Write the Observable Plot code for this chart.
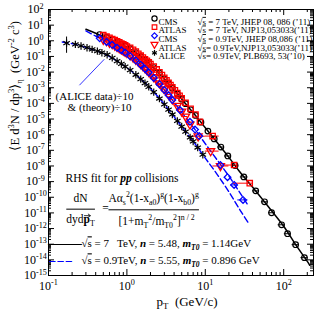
<!DOCTYPE html>
<html><head><meta charset="utf-8">
<script src="https://cdn.jsdelivr.net/npm/d3@7"></script>
<script src="https://cdn.jsdelivr.net/npm/@observablehq/plot@0.6"></script>
<style>body{margin:0;background:#fff} svg{font-family:"Liberation Serif","Times New Roman",serif;}</style>
</head><body><div id="chart"></div><script>
// ---------------- data (log10 of E d3N/dp3) ----------------
const cms7Pt   = [0.45,0.55,0.65,0.75,0.85,0.95,1.1,1.3,1.5,1.7,1.9,2.2,2.6,3.0,3.4,3.8,4.4,5.0,5.6,6.5,7.5,8.8,10.8,13,15.8,19.4,24,31,44,57,70,94,112,142,184];
const cms7LogY = [0.40,0.21,0.05,-0.09,-0.23,-0.35,-0.51,-0.75,-1.01,-1.24,-1.44,-1.71,-2.07,-2.43,-2.75,-3.03,-3.40,-3.73,-4.02,-4.41,-4.77,-5.20,-5.77,-6.27,-6.79,-7.36,-7.97,-8.70,-9.59,-10.29,-10.99,-11.76,-12.33,-13.03,-13.86];
const cms7BarPt = [15.8,19.4,24,31,44,57,70,94,112,142,184];
const cms7BarLo = [14.4,17.6,21.6,28,40,52,64,85,102,128,166];
const cms7BarHi = [17.4,21.4,26.6,35,49,63,78,104,124,158,205];

const atlas7Pt   = [0.5,0.55,0.6,0.65,0.7,0.75,0.8,0.85,0.9,0.95,1.0,1.1,1.2,1.3,1.4,1.5,1.6,1.7,1.8,1.9,2.0,2.2,2.4,2.6,2.8,3.0,3.2,3.4,3.6,3.8,4.1,4.4,4.7,5.0,5.6,6.5,7.5,8.54,12.4,23.3,36.9];
const atlas7LogY = [0.36,0.27,0.19,0.11,0.04,-0.03,-0.10,-0.17,-0.23,-0.29,-0.37,-0.45,-0.58,-0.69,-0.83,-0.95,-1.07,-1.18,-1.28,-1.38,-1.49,-1.65,-1.83,-2.01,-2.19,-2.37,-2.53,-2.69,-2.83,-2.97,-3.16,-3.34,-3.51,-3.67,-3.96,-4.35,-4.71,-5.18,-6.09,-7.94,-9.10];
const atlas7BarPt = [12.4,23.3,36.9];
const atlas7BarLo = [10,17.7,22.6];
const atlas7BarHi = [15,25.7,40.6];

const cms09Pt   = [0.45,0.55,0.65,0.75,0.85,0.95,1.1,1.3,1.5,1.7,1.9,2.2,2.6,3.0,3.4,3.8,4.75,6.37,7.4,8.37,15.6,19.2,23.3,30.3];
const cms09LogY = [0.16,-0.07,-0.26,-0.44,-0.60,-0.75,-0.98,-1.26,-1.53,-1.79,-2.03,-2.37,-2.77,-3.14,-3.48,-3.79,-4.43,-5.18,-5.67,-6.09,-7.94,-8.72,-9.21,-10.17];
const cms09BarPt = [23.3,30.3];
const cms09BarLo = [21,26];
const cms09BarHi = [26,35];

const atlas09Pt   = [0.5,0.55,0.6,0.65,0.7,0.75,0.8,0.85,0.9,0.95,1.0,1.1,1.2,1.3,1.4,1.5,1.6,1.7,1.8,1.9,2.0,2.2,2.4,2.6,2.8,3.0,3.4,3.8,4.4,5.0,5.6,6.37,8.1,11.7,15.6];
const atlas09LogY = [0.07,-0.02,-0.12,-0.21,-0.30,-0.39,-0.47,-0.55,-0.63,-0.70,-0.77,-0.93,-1.07,-1.21,-1.34,-1.48,-1.61,-1.74,-1.86,-1.98,-2.09,-2.32,-2.52,-2.72,-2.91,-3.09,-3.43,-3.74,-4.15,-4.52,-4.84,-5.35,-6.10,-7.05,-8.00];
const atlas09BarPt = [2.6,3.0,3.4,3.8,4.4,5.0,5.6,6.37,8.1,11.7,15.6];
const atlas09BarLo = [2.4,2.8,3.2,3.6,4.0,4.6,5.2,5.8,6.5,10,12.5];
const atlas09BarHi = [2.8,3.2,3.6,4.0,4.8,5.4,6.0,7.0,10,15,20];

const alicePt   = [0.17,0.22,0.26,0.31,0.36,0.42,0.48,0.56,0.65,0.75,0.85,0.95,1.1,1.3,1.5,1.7,1.9,2.2,2.6,3.0,3.4,3.8,4.4,5.0,5.6,6.4,7.0,8.0,9.3];
const aliceLogY = [-0.15,-0.23,-0.33,-0.44,-0.55,-0.66,-0.76,-0.89,-1.09,-1.30,-1.48,-1.65,-1.88,-2.17,-2.45,-2.71,-2.94,-3.28,-3.69,-4.06,-4.40,-4.71,-5.12,-5.48,-5.80,-6.18,-6.43,-6.82,-7.28];
const aliceErrLo = [-0.80];
const aliceErrHi = [0.24];

// fit curves (theory)
const fit7Pt    = [0.3,0.4,0.5,0.7,1.0,1.4,2.0,2.8,4.0,5.5,7.5,10,14,20,28,40,55,75,100,140,200,215];
const fit7LogY  = [0.74,0.48,0.28,-0.02,-0.40,-0.87,-1.54,-2.26,-3.15,-3.98,-4.77,-5.56,-6.47,-7.45,-8.42,-9.35,-10.20,-11.05,-11.85,-12.98,-14.10,-14.35];
const fit09Pt   = [0.3,0.4,0.5,0.7,1.0,1.4,2.0,2.8,4.0,5.5,7.5,10,14,20,28,35];
const fit09LogY = [0.63,0.30,0.04,-0.35,-0.82,-1.38,-2.14,-2.95,-3.93,-4.84,-5.71,-6.58,-7.58,-8.65,-9.75,-10.50];
const fitAlicePt   = [0.15,0.2,0.3,0.4,0.5,0.7,1.0,1.4,2.0,2.8,4.0,5.5,7.5,10,14,20,28,35];
const fitAliceLogY = [-0.08,-0.18,-0.42,-0.63,-0.80,-1.20,-1.72,-2.30,-3.05,-3.87,-4.85,-5.75,-6.62,-7.50,-8.50,-9.65,-10.85,-11.60];

// annotation pointer (ALICE ÷10)
const pointerPt = [0.248, 0.515];
const pointerLogY = [-2.84, -1.18];

// axes
const xTickValues = [0.1, 1, 10, 100];
const xTickLabels = ["10^{-1}", "10^{0}", "10^{1}", "10^{2}"];
const yExponents = [2,1,0,-1,-2,-3,-4,-5,-6,-7,-8,-9,-10,-11,-12,-13,-14,-15];

const legendNames = ["CMS", "ATLAS", "CMS", "ATLAS", "ALICE"];
const legendRefs = ["√~{s} = 7 TeV, JHEP 08, 086 (’11)", "√~{s} = 7 TeV, NJP13,053033(’11)", "√~{s} = 0.9TeV, JHEP 08,086 (’11)", "√~{s}= 0.9TeV,NJP13,053033(’11)", "√~{s}= 0.9TeV, PLB693, 53(’10)"];

// ---------------- build ----------------
const W = 317, H = 316, mL = 48, mR = 4, mT = 9, mB = 41;
const iW = W - mL - mR, iH = H - mT - mB;
const pts = (p, l) => p.map((x, i) => ({x, y: 10 ** l[i]}));
const bars = (bp, lo, hi, p, l) => bp.map((x, i) => ({x1: lo[i], x2: hi[i], y: 10 ** l[p.indexOf(x)]}));

const cms7 = pts(cms7Pt, cms7LogY), atlas7 = pts(atlas7Pt, atlas7LogY);
const cms09 = pts(cms09Pt, cms09LogY), atlas09 = pts(atlas09Pt, atlas09LogY);
const alice = pts(alicePt, aliceLogY);
const fit7 = pts(fit7Pt, fit7LogY), fit09 = pts(fit09Pt, fit09LogY), fitAl = pts(fitAlicePt, fitAliceLogY);

const yMajor = yExponents.map(e => 10 ** e);
const yMinor = [];
for (const e of yExponents.slice(1)) for (let k = 2; k <= 9; k++) yMinor.push(k * 10 ** e);
const xMinor = [];
for (const e of [-1, 0, 1, 2]) for (let k = 2; k <= 9; k++) if (k * 10 ** e < 240) xMinor.push(k * 10 ** e);

const red = "#ff0000", blue = "#0000ff";
const font = {fontFamily: "Liberation Serif"};

const marks = [
  Plot.tickX(xTickValues, {x: d => d, insetTop: iH - 6, stroke: "black"}),
  Plot.tickX(xTickValues, {x: d => d, insetBottom: iH - 6, stroke: "black"}),
  Plot.tickX(xMinor, {x: d => d, insetTop: iH - 3, stroke: "black"}),
  Plot.tickX(xMinor, {x: d => d, insetBottom: iH - 3, stroke: "black"}),
  Plot.tickY(yMajor, {y: d => d, insetRight: iW - 6, stroke: "black"}),
  Plot.tickY(yMajor, {y: d => d, insetLeft: iW - 6, stroke: "black"}),
  Plot.tickY(yMinor, {y: d => d, insetRight: iW - 3, stroke: "black"}),
  Plot.tickY(yMinor, {y: d => d, insetLeft: iW - 3, stroke: "black"}),
  Plot.text(xTickValues, {x: d => d, frameAnchor: "bottom", dy: 14, text: (d, i) => xTickLabels[i], fontSize: 12, ...font}),
  Plot.text(yMajor, {y: d => d, frameAnchor: "left", dx: -13, textAnchor: "middle", text: (d, i) => `10^{${yExponents[i]}}`, fontSize: 12, ...font}),
  Plot.text(["⟨E d^{3}N / dp^{3}⟩_{η}  (GeV^{-2} c^{3})"], {frameAnchor: "left", dx: -34, dy: 8, rotate: -90, fontSize: 12.5, ...font}),
  Plot.text(["p_{T}  (GeV/c)"], {frameAnchor: "bottom", dx: 6, dy: 30, fontSize: 13, ...font}),
  Plot.line(fit7, {x: "x", y: "y", stroke: "black", strokeWidth: 1.5, curve: "catmull-rom"}),
  Plot.line(fit09, {x: "x", y: "y", stroke: blue, strokeWidth: 1.4, strokeDasharray: "6,3", curve: "catmull-rom"}),
  Plot.line(fitAl, {x: "x", y: "y", stroke: blue, strokeWidth: 1.4, strokeDasharray: "6,3", curve: "catmull-rom"}),
  Plot.link([0], {x1: () => pointerPt[0], y1: () => 10 ** pointerLogY[0], x2: () => pointerPt[1], y2: () => 10 ** pointerLogY[1], stroke: blue, strokeWidth: 0.8}),
  Plot.ruleY(bars(cms7BarPt, cms7BarLo, cms7BarHi, cms7Pt, cms7LogY), {y: "y", x1: "x1", x2: "x2", stroke: "black", strokeWidth: 1}),
  Plot.ruleY(bars(atlas7BarPt, atlas7BarLo, atlas7BarHi, atlas7Pt, atlas7LogY), {y: "y", x1: "x1", x2: "x2", stroke: red, strokeWidth: 1}),
  Plot.ruleY(bars(atlas09BarPt, atlas09BarLo, atlas09BarHi, atlas09Pt, atlas09LogY), {y: "y", x1: "x1", x2: "x2", stroke: red, strokeWidth: 1}),
  Plot.ruleY(bars(cms09BarPt, cms09BarLo, cms09BarHi, cms09Pt, cms09LogY), {y: "y", x1: "x1", x2: "x2", stroke: blue, strokeWidth: 1}),
  Plot.ruleX([0], {x: () => alicePt[0], y1: () => 10 ** aliceErrLo[0], y2: () => 10 ** aliceErrHi[0], stroke: "black", strokeWidth: 1}),
  Plot.dot(cms7, {x: "x", y: "y", symbol: "circle", r: 2.8, stroke: "black", strokeWidth: 1.2, fill: "none"}),
  Plot.dot(atlas7, {x: "x", y: "y", symbol: "square", r: 3, stroke: red, strokeWidth: 1.3, fill: "none"}),
  Plot.dot(atlas09, {x: "x", y: "y", symbol: "triangle", rotate: 180, r: 3, stroke: red, strokeWidth: 1.3, fill: "none"}),
  Plot.dot(cms09, {x: "x", y: "y", symbol: "diamond2", r: 3, stroke: blue, strokeWidth: 1.3, fill: "none"}),
  Plot.dot(alice, {x: "x", y: "y", symbol: "asterisk", r: 3.5, stroke: "black", strokeWidth: 1.2}),
  Plot.text(["(ALICE data)÷10"], {frameAnchor: "top-left", dx: 46, dy: 83, textAnchor: "middle", fontSize: 11, ...font}),
  Plot.text(["& (theory)÷10"], {frameAnchor: "top-left", dx: 51, dy: 94, textAnchor: "middle", fontSize: 11, ...font}),
  Plot.text(["RHS fit for *{pp} collisions"], {frameAnchor: "top-left", dx: 17, dy: 164, textAnchor: "start", fontSize: 11.5, ...font}),
  Plot.text(["dN"], {frameAnchor: "top-left", dx: 32, dy: 184, textAnchor: "middle", fontSize: 11.5, ...font}),
  Plot.text(["dyd!{p}_{T}"], {frameAnchor: "top-left", dx: 32, dy: 205, textAnchor: "middle", fontSize: 11.5, ...font}),
  Plot.text(["="], {frameAnchor: "top-left", dx: 57, dy: 194, textAnchor: "middle", fontSize: 11.5, ...font}),
  Plot.text(["Aα_{s}^{2}(1-x_{a0})^{g}(1-x_{b0})^{g}"], {frameAnchor: "top-left", dx: 60, dy: 184, textAnchor: "start", fontSize: 11.5, ...font}),
  Plot.text(["[1+m_{T}^{2}/m_{T0}^{2}]^{n / 2}"], {frameAnchor: "top-left", dx: 70, dy: 207, textAnchor: "start", fontSize: 11.5, ...font}),
  Plot.text(["———"], {frameAnchor: "top-left", dx: 0, dy: 230, textAnchor: "start", fontSize: 11, fill: "black", stroke: "black", strokeWidth: 0.7, ...font}),
  Plot.text(["– – –"], {frameAnchor: "top-left", dx: 1, dy: 247, textAnchor: "start", fontSize: 11, fill: blue, stroke: blue, strokeWidth: 0.7, ...font}),
  Plot.text(["√~{s} = 7   TeV, *{n} = 5.48, *{m}${T0} = 1.14GeV"], {frameAnchor: "top-left", dx: 33, dy: 230, textAnchor: "start", fontSize: 11, ...font}),
  Plot.text(["√~{s} = 0.9TeV, *{n} = 5.55, *{m}${T0} = 0.896 GeV"], {frameAnchor: "top-left", dx: 33, dy: 247, textAnchor: "start", fontSize: 11, ...font}),
  Plot.frame({stroke: "black", strokeWidth: 1})
];

const legendSym = [
  {symbol: "circle", stroke: "black", rotate: 0},
  {symbol: "square", stroke: red, rotate: 0},
  {symbol: "diamond2", stroke: blue, rotate: 0},
  {symbol: "triangle", stroke: red, rotate: 180},
  {symbol: "asterisk", stroke: "black", rotate: 0}
];
legendNames.forEach((name, i) => {
  const dy = 9 + 8.6 * i;
  const s = legendSym[i];
  marks.push(Plot.dot([0], {frameAnchor: "top-left", dx: 106, dy, symbol: s.symbol, rotate: s.rotate, r: 2.6, stroke: s.stroke, strokeWidth: 1.2, fill: "none"}));
  marks.push(Plot.text([name], {frameAnchor: "top-left", dx: 110, dy, textAnchor: "start", fontSize: 9, ...font}));
  marks.push(Plot.text([legendRefs[i]], {frameAnchor: "top-left", dx: 149, dy, textAnchor: "start", fontSize: 9, ...font}));
});

const chart = Plot.plot({
  width: W, height: H,
  marginLeft: mL, marginRight: mR, marginTop: mT, marginBottom: mB,
  x: {type: "log", domain: [0.1, 240], axis: null},
  y: {type: "log", domain: [1e-15, 1e2], axis: null},
  style: {background: "white", color: "black", overflow: "visible"},
  marks
});
document.getElementById("chart").appendChild(chart);

// ---------- rich text: ^{sup} _{sub} *{bold italic} !{bold} ~{overline} ${bold-italic sub} ----------
const NS = "http://www.w3.org/2000/svg";
const byString = new Map();
const boldNodes = new Map();
chart.querySelectorAll("text").forEach(t => {
  const s = t.textContent;
  byString.set(s, t);
  t.style.whiteSpace = "pre";
  if (!/[\^_*~!$]\{/.test(s)) return;
  const fs = parseFloat(getComputedStyle(t).fontSize) || 11;
  t.textContent = "";
  let shift = 0;
  const add = (txt, kind, overline) => {
    if (!txt) return;
    const ts = document.createElementNS(NS, "tspan");
    let target = 0;
    if (kind === "^") target = -0.4 * fs;
    else if (kind === "_" || kind === "$") target = 0.25 * fs;
    if (kind === "^" || kind === "_" || kind === "$") ts.setAttribute("font-size", (0.68 * fs).toFixed(2));
    if (target !== shift) ts.setAttribute("dy", (target - shift).toFixed(2));
    shift = target;
    if (kind === "*" || kind === "$") { ts.setAttribute("font-weight", "bold"); ts.setAttribute("font-style", "italic"); }
    if (kind === "!") { ts.setAttribute("font-weight", "bold"); boldNodes.set(s, ts); }
    if (overline) ts.setAttribute("text-decoration", "overline");
    ts.textContent = txt;
    t.appendChild(ts);
  };
  const parse = (str, overline) => {
    const re = /([\^_*~!$])\{/g;
    let i = 0;
    while (i < str.length) {
      re.lastIndex = i;
      const m = re.exec(str);
      if (!m) { add(str.slice(i), "", overline); break; }
      add(str.slice(i, m.index), "", overline);
      let depth = 1, j = m.index + 2;
      while (j < str.length && depth) { if (str[j] === "{") depth++; else if (str[j] === "}") depth--; j++; }
      const inner = str.slice(m.index + 2, j - 1);
      if (m[1] === "~") parse(inner, true);
      else add(inner, m[1], overline);
      i = j;
    }
  };
  parse(s, false);
});

// fraction bars and vector arrow, measured from the rendered text
const svgBox = chart.getBoundingClientRect();
const sel = d3.select(chart);
const hline = (x1, x2, y) => sel.append("line").attr("x1", x1).attr("x2", x2).attr("y1", y).attr("y2", y).attr("stroke", "black").attr("stroke-width", 1);
{
  const a = byString.get("dN").getBoundingClientRect(), b = byString.get("dyd!{p}_{T}").getBoundingClientRect();
  hline(Math.min(a.left, b.left) - svgBox.left, Math.max(a.right, b.right) - svgBox.left, (a.bottom + b.top) / 2 - svgBox.top + 1);
}
{
  const a = byString.get("Aα_{s}^{2}(1-x_{a0})^{g}(1-x_{b0})^{g}").getBoundingClientRect();
  const b = byString.get("[1+m_{T}^{2}/m_{T0}^{2}]^{n / 2}").getBoundingClientRect();
  hline(a.left - svgBox.left, a.right - svgBox.left, (a.bottom + b.top) / 2 - svgBox.top);
}
{
  const p = boldNodes.get("dyd!{p}_{T}");
  const r = p.getBoundingClientRect();
  const x1 = r.left - svgBox.left + 0.5, x2 = r.right - svgBox.left + 0.5, y = r.top - svgBox.top + 3;
  sel.append("path").attr("d", `M${x1},${y}H${x2}M${x2 - 2.5},${y - 1.8}L${x2},${y}L${x2 - 2.5},${y + 1.8}`)
    .attr("stroke", "black").attr("stroke-width", 0.8).attr("fill", "none");
}
</script></body></html>
